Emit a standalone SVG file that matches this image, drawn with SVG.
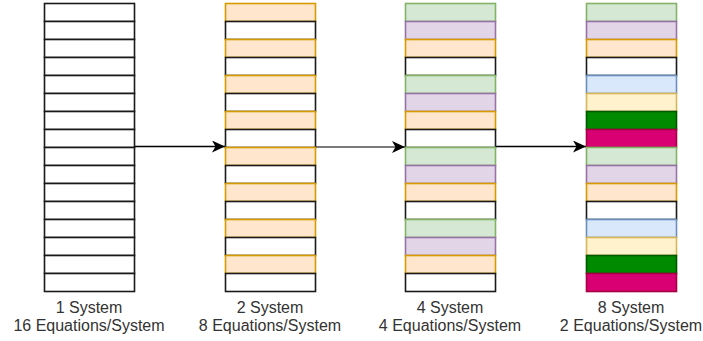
<svg xmlns="http://www.w3.org/2000/svg" width="703" height="341" viewBox="0 0 703 341">
<style>
rect{stroke-width:1.6}
.w{fill:#ffffff;stroke:#1a1a1a}
.o{fill:#ffe6cc;stroke:#d79b00}
.g{fill:#d5e8d4;stroke:#82b366}
.p{fill:#e1d5e7;stroke:#9673a6}
.b{fill:#dae8fc;stroke:#6c8ebf}
.y{fill:#fff2cc;stroke:#d6b656}
.dg{fill:#008a00;stroke:#005700}
.m{fill:#d80073;stroke:#a50040}
text{font-family:"Liberation Sans",Arial,sans-serif;font-size:16px;fill:#333333;text-anchor:middle}
.c{fill:none;stroke:#000000;stroke-width:1.5}
</style>
<defs>
<marker id="ah" markerWidth="14" markerHeight="12" refX="13" refY="6" orient="auto" markerUnits="userSpaceOnUse">
<path d="M0,0 L13,6 L0,12 L3.5,6 Z" fill="#000000"/>
</marker>
</defs>
<g id="connectors">
<line class="c" x1="134.5" y1="146.5" x2="225" y2="146.5" marker-end="url(#ah)"/>
<line class="c" x1="315.5" y1="147" x2="405" y2="147" marker-end="url(#ah)" style="stroke:#7a7a7a;stroke-width:2"/>
<line class="c" x1="495.5" y1="146.5" x2="586" y2="146.5" marker-end="url(#ah)"/>
</g>
<g id="sys1">
<rect class="w" x="44.5" y="3.5" width="90" height="18"/>
<rect class="w" x="44.5" y="21.5" width="90" height="18"/>
<rect class="w" x="44.5" y="39.5" width="90" height="18"/>
<rect class="w" x="44.5" y="57.5" width="90" height="18"/>
<rect class="w" x="44.5" y="75.5" width="90" height="18"/>
<rect class="w" x="44.5" y="93.5" width="90" height="18"/>
<rect class="w" x="44.5" y="111.5" width="90" height="18"/>
<rect class="w" x="44.5" y="129.5" width="90" height="18"/>
<rect class="w" x="44.5" y="147.5" width="90" height="18"/>
<rect class="w" x="44.5" y="165.5" width="90" height="18"/>
<rect class="w" x="44.5" y="183.5" width="90" height="18"/>
<rect class="w" x="44.5" y="201.5" width="90" height="18"/>
<rect class="w" x="44.5" y="219.5" width="90" height="18"/>
<rect class="w" x="44.5" y="237.5" width="90" height="18"/>
<rect class="w" x="44.5" y="255.5" width="90" height="18"/>
<rect class="w" x="44.5" y="273.5" width="90" height="18"/>
<text x="89" y="313">1 System</text>
<text x="89" y="331">16 Equations/System</text>
</g>
<g id="sys2">
<rect class="o" x="225.5" y="3.5" width="90" height="18"/>
<rect class="w" x="225.5" y="21.5" width="90" height="18"/>
<rect class="o" x="225.5" y="39.5" width="90" height="18"/>
<rect class="w" x="225.5" y="57.5" width="90" height="18"/>
<rect class="o" x="225.5" y="75.5" width="90" height="18"/>
<rect class="w" x="225.5" y="93.5" width="90" height="18"/>
<rect class="o" x="225.5" y="111.5" width="90" height="18"/>
<rect class="w" x="225.5" y="129.5" width="90" height="18"/>
<rect class="o" x="225.5" y="147.5" width="90" height="18"/>
<rect class="w" x="225.5" y="165.5" width="90" height="18"/>
<rect class="o" x="225.5" y="183.5" width="90" height="18"/>
<rect class="w" x="225.5" y="201.5" width="90" height="18"/>
<rect class="o" x="225.5" y="219.5" width="90" height="18"/>
<rect class="w" x="225.5" y="237.5" width="90" height="18"/>
<rect class="o" x="225.5" y="255.5" width="90" height="18"/>
<rect class="w" x="225.5" y="273.5" width="90" height="18"/>
<text x="270" y="313">2 System</text>
<text x="270" y="331">8 Equations/System</text>
</g>
<g id="sys4">
<rect class="g" x="405.5" y="3.5" width="90" height="18"/>
<rect class="p" x="405.5" y="21.5" width="90" height="18"/>
<rect class="o" x="405.5" y="39.5" width="90" height="18"/>
<rect class="w" x="405.5" y="57.5" width="90" height="18"/>
<rect class="g" x="405.5" y="75.5" width="90" height="18"/>
<rect class="p" x="405.5" y="93.5" width="90" height="18"/>
<rect class="o" x="405.5" y="111.5" width="90" height="18"/>
<rect class="w" x="405.5" y="129.5" width="90" height="18"/>
<rect class="g" x="405.5" y="147.5" width="90" height="18"/>
<rect class="p" x="405.5" y="165.5" width="90" height="18"/>
<rect class="o" x="405.5" y="183.5" width="90" height="18"/>
<rect class="w" x="405.5" y="201.5" width="90" height="18"/>
<rect class="g" x="405.5" y="219.5" width="90" height="18"/>
<rect class="p" x="405.5" y="237.5" width="90" height="18"/>
<rect class="o" x="405.5" y="255.5" width="90" height="18"/>
<rect class="w" x="405.5" y="273.5" width="90" height="18"/>
<text x="450" y="313">4 System</text>
<text x="450" y="331">4 Equations/System</text>
</g>
<g id="sys8">
<rect class="g" x="586.5" y="3.5" width="90" height="18"/>
<rect class="p" x="586.5" y="21.5" width="90" height="18"/>
<rect class="o" x="586.5" y="39.5" width="90" height="18"/>
<rect class="w" x="586.5" y="57.5" width="90" height="18"/>
<rect class="b" x="586.5" y="75.5" width="90" height="18"/>
<rect class="y" x="586.5" y="93.5" width="90" height="18"/>
<rect class="dg" x="586.5" y="111.5" width="90" height="18"/>
<rect class="m" x="586.5" y="129.5" width="90" height="18"/>
<rect class="g" x="586.5" y="147.5" width="90" height="18"/>
<rect class="p" x="586.5" y="165.5" width="90" height="18"/>
<rect class="o" x="586.5" y="183.5" width="90" height="18"/>
<rect class="w" x="586.5" y="201.5" width="90" height="18"/>
<rect class="b" x="586.5" y="219.5" width="90" height="18"/>
<rect class="y" x="586.5" y="237.5" width="90" height="18"/>
<rect class="dg" x="586.5" y="255.5" width="90" height="18"/>
<rect class="m" x="586.5" y="273.5" width="90" height="18"/>
<text x="631" y="313">8 System</text>
<text x="631" y="331">2 Equations/System</text>
</g>
</svg>
